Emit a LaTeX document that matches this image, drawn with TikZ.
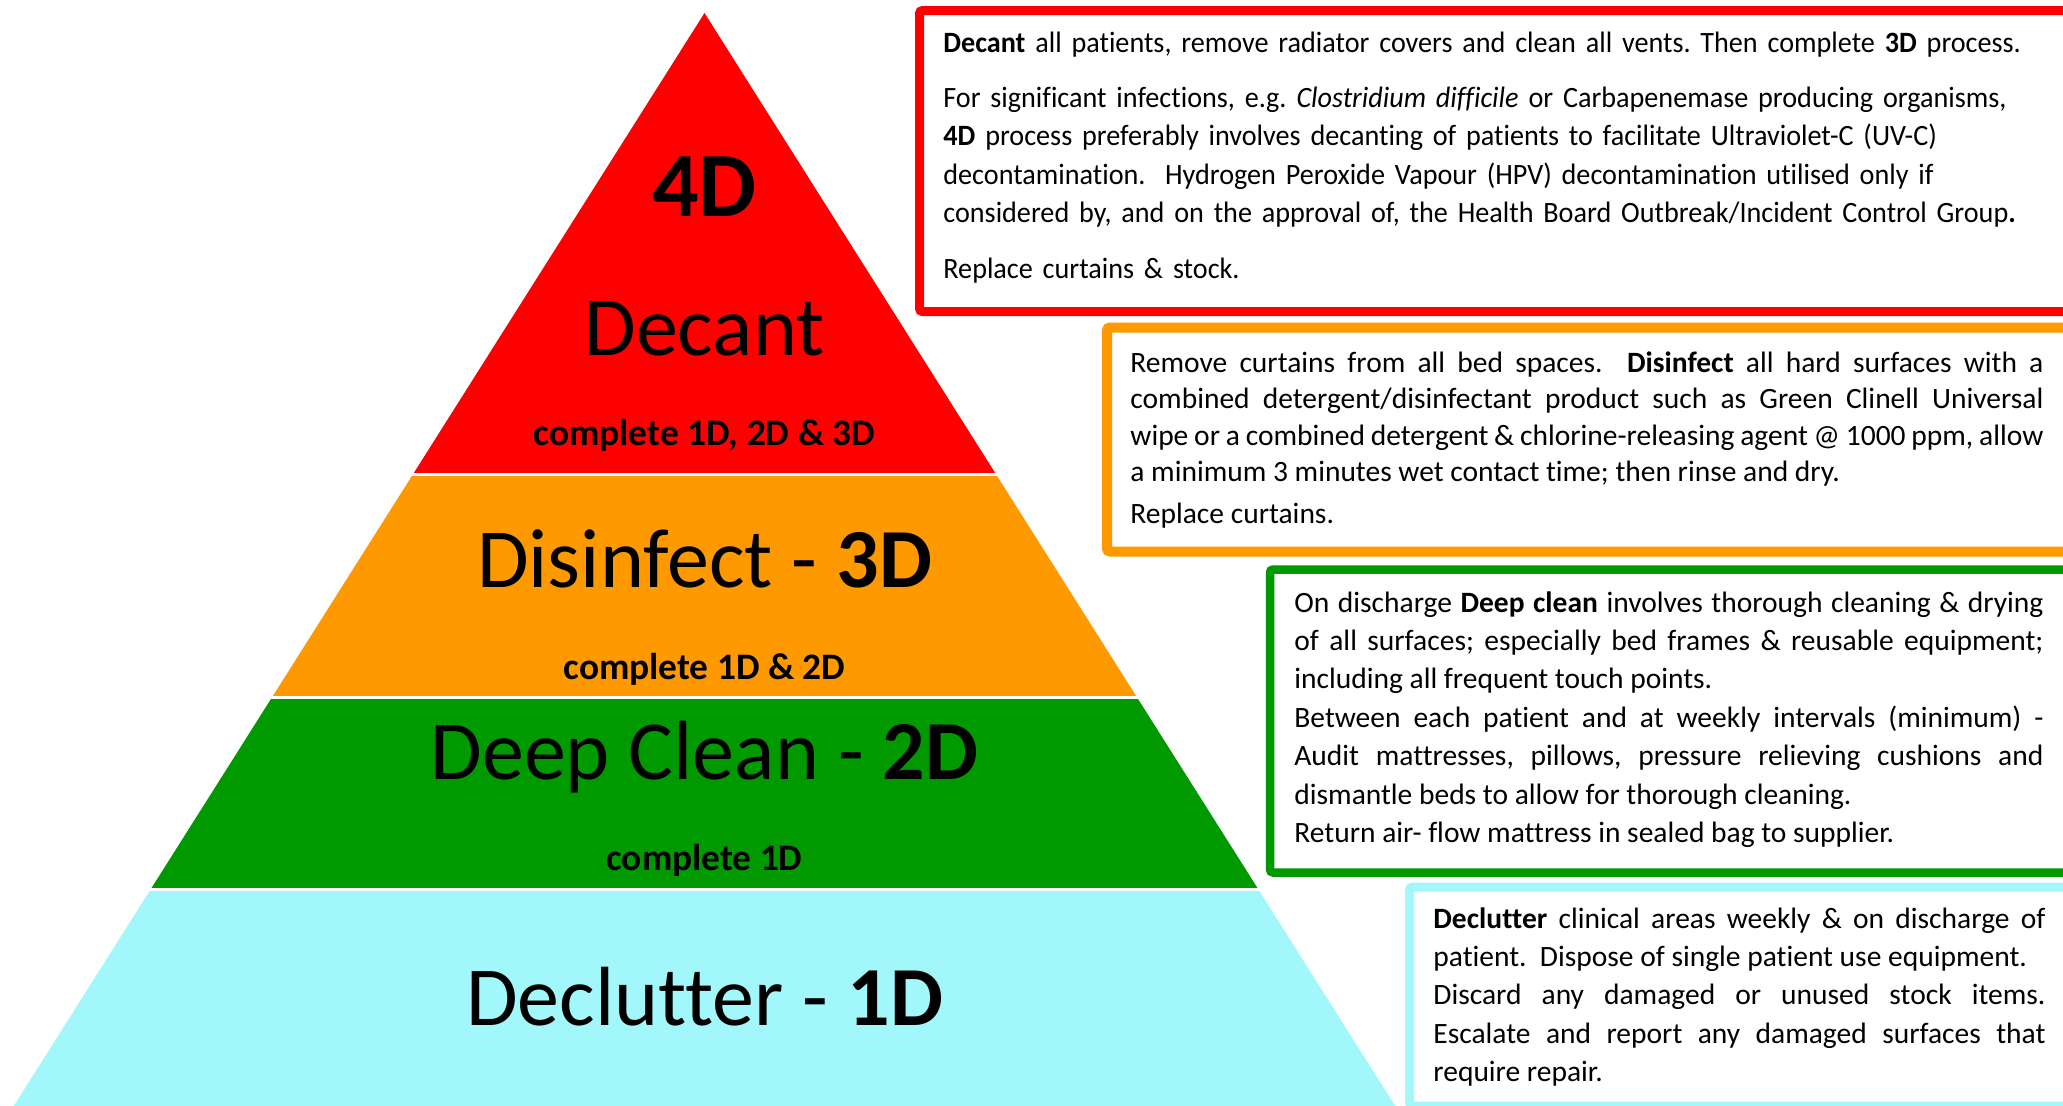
\documentclass[tikz,border=0pt]{standalone}
\usepackage{fontspec}
\setmainfont{Carlito}[Ligatures={TeX,NoCommon}]
\newfontfamily\narrowtext{Carlito}[Ligatures={TeX,NoCommon}, FakeStretch=0.955]
\usepackage{tikz}
\definecolor{decantred}{RGB}{255,0,0}
\definecolor{disorange}{RGB}{255,153,0}
\definecolor{deepgreen}{RGB}{0,153,0}
\definecolor{declcyan}{RGB}{161,247,250}
\frenchspacing

\tikzset{
  level/.style={font=\fontsize{42}{46}\selectfont, anchor=base, inner sep=0pt},
  sublevel/.style={font=\fontsize{18.7}{22}\selectfont\bfseries, anchor=base, inner sep=0pt},
  infobox/.style={draw=#1, fill=white, line width=4.5pt, rounded corners=1.5pt},
  infotext/.style={font=\fontsize{14.75}{19.2}\selectfont, anchor=base west, inner sep=0pt}
}

\begin{document}
\begin{tikzpicture}[x=0.5pt,y=-0.5pt]
  \useasboundingbox (0,0) rectangle (2063,1105);
  \clip (0,0) rectangle (2063,1105);

  % pyramid: the same triangle, clipped to each band
  \coordinate (apex) at (704.5,13);
  \coordinate (baseL) at (11.2,1110);
  \coordinate (baseR) at (1397.8,1110);
  \foreach \ytop/\ybot/\col in {0/472.5/decantred, 476.5/695.5/disorange, 699.5/887.5/deepgreen, 891/1110/declcyan}{
    \begin{scope}
      \clip (0,\ytop) rectangle (1500,\ybot);
      \fill[\col] (apex) -- (baseL) -- (baseR) -- cycle;
    \end{scope}
  }

  \node[level, font=\fontsize{46}{50}\selectfont\bfseries] (fourD) at (704.5,216) {4D};
  \node[level] (decant) at (704.5,355.5) {Decant};
  \node[sublevel] (decantsub) at (704.5,445) {complete 1D, 2D \& 3D};
  \node[level] (disinfect) at (704.5,587) {Disinfect - \textbf{3D}};
  \node[sublevel] (disinfectsub) at (704.5,679) {complete 1D \& 2D};
  \node[level] (deepclean) at (704.5,779) {Deep Clean - \textbf{2D}};
  \node[sublevel] (deepsub) at (704.5,870) {complete 1D};
  \node[level] (declutter) at (704.5,1025) {Declutter - \textbf{1D}};

  % boxes on the right
  \draw[infobox=decantred] (919.5,10.5) rectangle (2080,311.5);
  \draw[infobox=disorange, line width=5pt] (1107,327.5) rectangle (2080,551.5);
  \draw[infobox=deepgreen, line width=4.25pt] (1270,569.5) rectangle (2080,872.5);
  \draw[infobox=declcyan] (1409.5,887) rectangle (2080,1106);

  \node[infotext, text width=560pt, align=left, font=\narrowtext\fontsize{14.75}{19.2}\selectfont] (decanttext) at (943,52) {%
    \textbf{Decant} all patients, remove radiator covers and clean all vents. Then complete \textbf{3D} process.\\[8.5pt]
    For significant infections, e.g. \textit{Clostridium difficile} or Carbapenemase producing organisms,\\
    \textbf{4D} process preferably involves decanting of patients to facilitate Ultraviolet-C (UV-C)\\
    decontamination.\ \ Hydrogen Peroxide Vapour (HPV) decontamination utilised only if\\
    considered by, and on the approval of, the Health Board Outbreak/Incident Control Group\textbf{.}\\[8.5pt]
    Replace curtains \& stock.};

  \node[infotext, text width=456.5pt, align=justify, font=\fontsize{14.75}{18.25}\selectfont] (disinfecttext) at (1130,372) {%
    Remove curtains from all bed spaces.\ \ \textbf{Disinfect} all hard surfaces with a\linebreak
    combined detergent/disinfectant product such as Green Clinell Universal\linebreak
    wipe or a combined detergent \& chlorine-releasing agent @ 1000 ppm, allow\linebreak
    a minimum 3 minutes wet contact time; then rinse and dry.\\[2.75pt]
    Replace curtains.};

  \node[infotext, text width=374.5pt, align=justify] (deeptext) at (1294,612) {%
    On discharge \textbf{Deep clean} involves thorough cleaning \& drying\linebreak
    of all surfaces; especially bed frames \& reusable equipment;\linebreak
    including all frequent touch points.\\
    Between each patient and at weekly intervals (minimum) -\linebreak
    Audit mattresses, pillows, pressure relieving cushions and\linebreak
    dismantle beds to allow for thorough cleaning.\\
    Return air- flow mattress in sealed bag to supplier.};

  \node[infotext, text width=306pt, align=justify] (declutext) at (1433,928) {%
    \textbf{Declutter} clinical areas weekly \& on discharge of\linebreak
    patient.\ \ Dispose of single patient use equipment.\\
    Discard any damaged or unused stock items.\linebreak
    Escalate and report any damaged surfaces that\linebreak
    require repair.};
\end{tikzpicture}
\end{document}
